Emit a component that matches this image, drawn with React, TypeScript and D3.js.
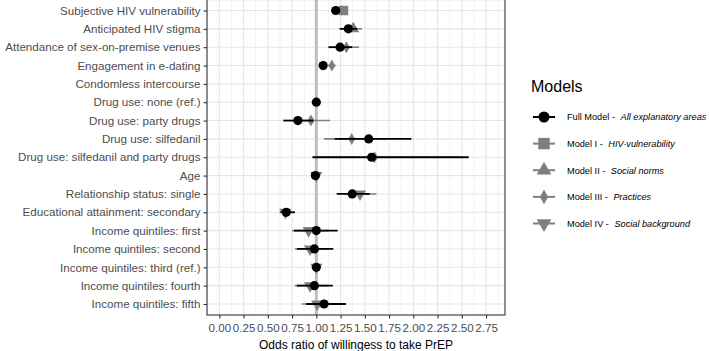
import { useEffect, useRef } from 'react';
import * as d3 from 'd3';

const categories = [
    'Subjective HIV vulnerability',
    'Anticipated HIV stigma',
    'Attendance of sex-on-premise venues',
    'Engagement in e-dating',
    'Condomless intercourse',
    'Drug use: none (ref.)',
    'Drug use: party drugs',
    'Drug use: silfedanil',
    'Drug use: silfedanil and party drugs',
    'Age',
    'Relationship status: single',
    'Educational attainment: secondary',
    'Income quintiles: first',
    'Income quintiles: second',
    'Income quintiles: third (ref.)',
    'Income quintiles: fourth',
    'Income quintiles: fifth',
];

// Full model (all explanatory areas)
const fullOr = [1.20, 1.33, 1.245, 1.07, null, 1.0, 0.81, 1.54, 1.57, 0.99, 1.37, 0.69, 1.0, 0.98, 1.0, 0.98, 1.08];
const fullLo = [1.16, 1.24, 1.125, 1.03, null, 1.0, 0.66, 1.19, 0.96, 0.98, 1.21, 0.63, 0.77, 0.80, 1.0, 0.80, 0.895];
const fullHi = [1.24, 1.42, 1.37, 1.11, null, 1.0, 0.97, 1.98, 2.57, 1.0, 1.55, 0.78, 1.22, 1.175, 1.0, 1.17, 1.305];

// Model I - HIV-vulnerability
const m1Cat = ['Subjective HIV vulnerability'];
const m1Or = [1.28];
const m1Lo = [1.24];
const m1Hi = [1.32];

// Model II - Social norms
const m2Cat = ['Anticipated HIV stigma'];
const m2Or = [1.38];
const m2Lo = [1.30];
const m2Hi = [1.47];

// Model III - Practices
const m3Cat = ['Attendance of sex-on-premise venues', 'Engagement in e-dating', 'Drug use: party drugs', 'Drug use: silfedanil', 'Drug use: silfedanil and party drugs'];
const m3Or = [1.31, 1.16, 0.945, 1.365, 1.60];
const m3Lo = [1.18, 1.12, 0.78, 1.08, 1.0];
const m3Hi = [1.44, 1.20, 1.14, 1.72, 2.45];

// Model IV - Social background
const m4Cat = ['Age', 'Relationship status: single', 'Educational attainment: secondary', 'Income quintiles: first', 'Income quintiles: second', 'Income quintiles: third (ref.)', 'Income quintiles: fourth', 'Income quintiles: fifth'];
const m4Or = [1.0, 1.45, 0.68, 0.92, 0.935, 1.0, 0.935, 1.01];
const m4Lo = [0.99, 1.28, 0.62, 0.75, 0.78, 1.0, 0.78, 0.85];
const m4Hi = [1.01, 1.62, 0.75, 1.13, 1.12, 1.0, 1.12, 1.2];

const xTicks = [0, 0.25, 0.5, 0.75, 1, 1.25, 1.5, 1.75, 2, 2.25, 2.5, 2.75];

const legendLabels = ['Full Model - ', 'Model I - ', 'Model II - ', 'Model III - ', 'Model IV - '];
const legendAreas = ['All explanatory areas', 'HIV-vulnerability', 'Social norms', 'Practices', 'Social background'];

const FONT = '"Liberation Sans", Arial, Helvetica, sans-serif';
const GREY = '#7f7f7f';

function shape_path(kind: string, scale = 1) {
    if (kind === 'circle') return d3.symbol().type(d3.symbolCircle).size(66 * scale)();
    if (kind === 'square') return d3.symbol().type(d3.symbolSquare).size(90 * scale)();
    if (kind === 'diamond') return d3.symbol().type(d3.symbolDiamond).size(42 * scale)();
    return d3.symbol().type(d3.symbolTriangle).size(64 * scale)();
}

const renderForest = (node: SVGSVGElement) => {
    const svg = d3.select(node);
    svg.selectAll('*').remove();

    const left = 207, right = 505, top = -0.5, bottom = 315;

    const x = d3.scaleLinear().domain([-0.127, 2.945]).range([left, right]);
    const y = d3.scalePoint().domain(categories).range([top, bottom]).padding(0.6);
    const xMinor = d3.range(-0.125, 3.0, 0.25);

    const g = svg.append('g');

    // grid
    g.selectAll('.minor').data(xMinor).enter().append('line')
        .attr('x1', d => x(d)).attr('x2', d => x(d))
        .attr('y1', top).attr('y2', bottom)
        .attr('stroke', '#efefef').attr('stroke-width', 0.9);
    g.selectAll('.major').data(xTicks).enter().append('line')
        .attr('x1', d => x(d)).attr('x2', d => x(d))
        .attr('y1', top).attr('y2', bottom)
        .attr('stroke', '#e6e6e6').attr('stroke-width', 1.1);
    g.selectAll('.hgrid').data(categories).enter().append('line')
        .attr('x1', left).attr('x2', right)
        .attr('y1', d => y(d)!).attr('y2', d => y(d)!)
        .attr('stroke', '#e6e6e6').attr('stroke-width', 1.1);

    // reference line at OR = 1
    g.append('line')
        .attr('x1', x(1)).attr('x2', x(1))
        .attr('y1', top).attr('y2', bottom)
        .attr('stroke', '#bdbdbd').attr('stroke-width', 3);

    const models = [
        { cat: m1Cat, or: m1Or, lo: m1Lo, hi: m1Hi, shape: 'square', rot: 0 },
        { cat: m2Cat, or: m2Or, lo: m2Lo, hi: m2Hi, shape: 'triangle', rot: 0 },
        { cat: m3Cat, or: m3Or, lo: m3Lo, hi: m3Hi, shape: 'diamond', rot: 0 },
        { cat: m4Cat, or: m4Or, lo: m4Lo, hi: m4Hi, shape: 'triangle', rot: 180 },
    ];

    models.forEach(m => {
        const rows = m.cat.map((c, i) => ({ c, or: m.or[i], lo: m.lo[i], hi: m.hi[i] }));
        g.append('g').selectAll('line').data(rows).enter().append('line')
            .attr('x1', d => x(d.lo)).attr('x2', d => x(d.hi))
            .attr('y1', d => y(d.c)!).attr('y2', d => y(d.c)!)
            .attr('stroke', GREY).attr('stroke-width', 1.6);
        g.append('g').selectAll('path').data(rows).enter().append('path')
            .attr('d', shape_path(m.shape))
            .attr('transform', d => `translate(${x(d.or)},${y(d.c)}) rotate(${m.rot})`)
            .attr('fill', GREY);
    });

    const full = categories.map((c, i) => ({ c, or: fullOr[i], lo: fullLo[i], hi: fullHi[i] }))
        .filter(d => d.or != null);
    g.append('g').selectAll('line').data(full).enter().append('line')
        .attr('x1', d => x(d.lo as number)).attr('x2', d => x(d.hi as number))
        .attr('y1', d => y(d.c)!).attr('y2', d => y(d.c)!)
        .attr('stroke', '#000').attr('stroke-width', 1.8);
    g.append('g').selectAll('circle').data(full).enter().append('circle')
        .attr('cx', d => x(d.or as number)).attr('cy', d => y(d.c)!)
        .attr('r', 4.6).attr('fill', '#000');

    // panel border
    g.append('rect')
        .attr('x', left).attr('y', top)
        .attr('width', right - left).attr('height', bottom - top)
        .attr('fill', 'none').attr('stroke', '#333').attr('stroke-width', 1.1);

    // y axis
    const yAxis = g.append('g').attr('transform', `translate(${left},0)`)
        .call(d3.axisLeft(y).tickSize(3.5).tickPadding(3));
    yAxis.select('.domain').remove();
    yAxis.selectAll('line').attr('stroke', '#333').attr('stroke-width', 1.1);
    yAxis.selectAll('text').attr('fill', '#4d4d4d').style('font-size', '11.6px').style('font-family', FONT);

    // x axis
    const xAxis = g.append('g').attr('transform', `translate(0,${bottom})`)
        .call(d3.axisBottom(x).tickValues(xTicks).tickFormat(d3.format('.2f')).tickSize(3.5).tickPadding(5));
    xAxis.select('.domain').remove();
    xAxis.selectAll('line').attr('stroke', '#333').attr('stroke-width', 1.1);
    xAxis.selectAll('text').attr('fill', '#4d4d4d').style('font-size', '11.6px').style('font-family', FONT);

    g.append('text')
        .attr('x', (left + right) / 2).attr('y', 349)
        .attr('text-anchor', 'middle')
        .style('font-size', '12px').style('font-family', FONT)
        .text('Odds ratio of willingess to take PrEP');

    // legend
    const lg = svg.append('g');
    lg.append('text').attr('x', 531).attr('y', 92)
        .style('font-size', '16px').style('font-family', FONT)
        .text('Models');

    const legendShapes = ['circle', 'square', 'triangle', 'diamond', 'triangle'];
    const legendRot = [0, 0, 0, 0, 180];
    const ly = d3.scalePoint().domain(legendLabels).range([117, 223.5]);
    const items = lg.selectAll('.item').data(legendLabels).enter().append('g')
        .attr('transform', d => `translate(0,${ly(d)})`);
    items.append('line')
        .attr('x1', 533).attr('x2', 555).attr('y1', 0).attr('y2', 0)
        .attr('stroke', (d, i) => (i === 0 ? '#000' : GREY)).attr('stroke-width', 2);
    items.append('path')
        .attr('d', (d, i) => shape_path(legendShapes[i], 1.45))
        .attr('transform', (d, i) => `translate(544,0) rotate(${legendRot[i]})`)
        .attr('fill', (d, i) => (i === 0 ? '#000' : GREY));
    const txt = items.append('text')
        .attr('x', 567).attr('y', 3.3)
        .style('font-size', '9.2px').style('font-family', FONT);
    txt.append('tspan').text(d => d);
    txt.append('tspan').attr('dx', 3).style('font-style', 'italic').text((d, i) => legendAreas[i]);
};

const App = () => {
    const ref = useRef<SVGSVGElement>(null);

    useEffect(() => {
        if (ref.current) renderForest(ref.current);
    }, []);

    return (
        <svg ref={ref} width={709} height={351}
            style={{ position: 'absolute', left: 0, top: 0, background: '#fff' }} />
    );
};

export default App;
